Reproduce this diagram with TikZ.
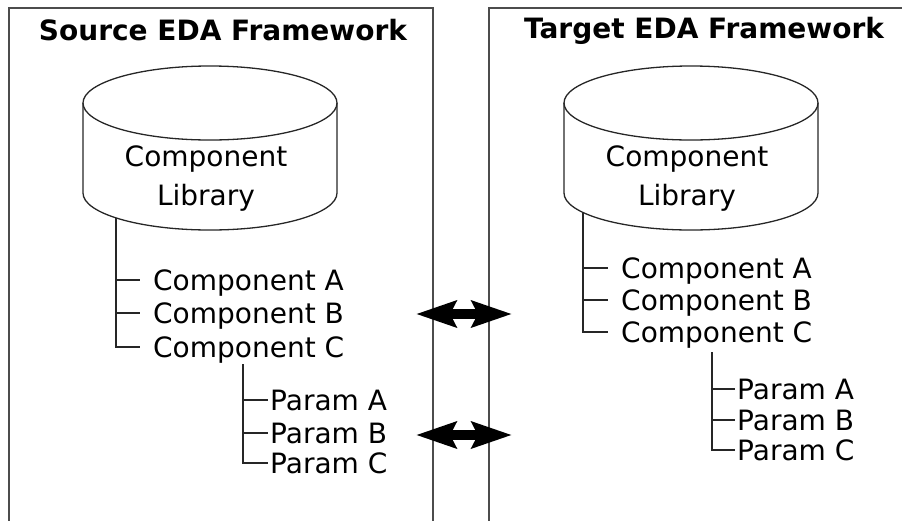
\documentclass[tikz,border=0pt]{standalone}
\usepackage{fontspec}
\setmainfont{DejaVu Sans}
\usetikzlibrary{arrows.meta}
\tikzset{
  frame/.style={draw=black!70, line width=2.8pt},
  title/.style={font=\fontsize{28}{30}\selectfont\bfseries},
  drum/.style={draw=black!85, line width=1.3pt},
  libtext/.style={align=center, font=\fontsize{28}{39}\selectfont},
  item/.style={anchor=west, inner xsep=13pt, inner ysep=0pt, text height=20pt, text depth=0pt, font=\fontsize{28}{30}\selectfont},
  leaf/.style={item, inner xsep=2pt},
  tree/.style={draw=black!85, line width=1.5pt},
  sync/.style={line width=10pt, {Stealth[length=40pt,width=26pt,inset=6pt]}-{Stealth[length=40pt,width=26pt,inset=6pt]}}
}
\begin{document}
\begin{tikzpicture}[x=1pt,y=1pt]
      \useasboundingbox (0,0) rectangle (902,-520);
      \draw[frame] (9,-8) rectangle (433,-560);
      \draw[frame] (489,-8) rectangle (940,-560);
      \node[title] (srctitle) at (223,-30) {Source EDA Framework};
      \node[title] (tgttitle) at (704,-31) {Target EDA Framework};
      \draw[drum] (83,-103) -- (83,-193) arc[start angle=180, end angle=360, x radius=127, y radius=37] -- (337,-103);
      \draw[drum] (210,-103) ellipse [x radius=127, y radius=37];
      \draw[drum] (564,-103) -- (564,-193) arc[start angle=180, end angle=360, x radius=127, y radius=37] -- (818,-103);
      \draw[drum] (691,-103) ellipse [x radius=127, y radius=37];
      \node[libtext] (srclib) at (206,-179) {Component\\Library};
      \node[libtext] (tgtlib) at (687,-179) {Component\\Library};
      \coordinate (srctap) at (116,-218);
      \coordinate (tgttap) at (583,-212);
      \coordinate (srcpar) at (243,-364);
      \coordinate (tgtpar) at (712,-352);
      \node[item] (srcA) at (140,-280) {Component A};
      \node[item] (srcB) at (140,-313) {Component B};
      \node[item] (srcC) at (140,-347) {Component C};
      \node[leaf] (srcPA) at (268,-400) {Param A};
      \node[leaf] (srcPB) at (268,-433) {Param B};
      \node[leaf] (srcPC) at (268,-463) {Param C};
      \node[item] (tgtA) at (608,-268) {Component A};
      \node[item] (tgtB) at (608,-300) {Component B};
      \node[item] (tgtC) at (608,-332) {Component C};
      \node[leaf] (tgtPA) at (735,-389) {Param A};
      \node[leaf] (tgtPB) at (735,-420) {Param B};
      \node[leaf] (tgtPC) at (735,-450) {Param C};
      \begin{scope}[tree]
        \draw (srctap) |- (srcA.west);
        \draw (srctap) |- (srcB.west);
        \draw (srctap) |- (srcC.west);
        \draw (srcpar) |- (srcPA.west);
        \draw (srcpar) |- (srcPB.west);
        \draw (srcpar) |- (srcPC.west);
        \draw (tgttap) |- (tgtA.west);
        \draw (tgttap) |- (tgtB.west);
        \draw (tgttap) |- (tgtC.west);
        \draw (tgtpar) |- (tgtPA.west);
        \draw (tgtpar) |- (tgtPB.west);
        \draw (tgtpar) |- (tgtPC.west);
      \end{scope}
      \coordinate (compL) at (416,-314);
      \coordinate (compR) at (512,-314);
      \coordinate (parL) at (416,-435);
      \coordinate (parR) at (512,-435);
      \draw[sync] (compL) -- (compR);
      \draw[sync] (parL) -- (parR);
    \end{tikzpicture}
\end{document}
